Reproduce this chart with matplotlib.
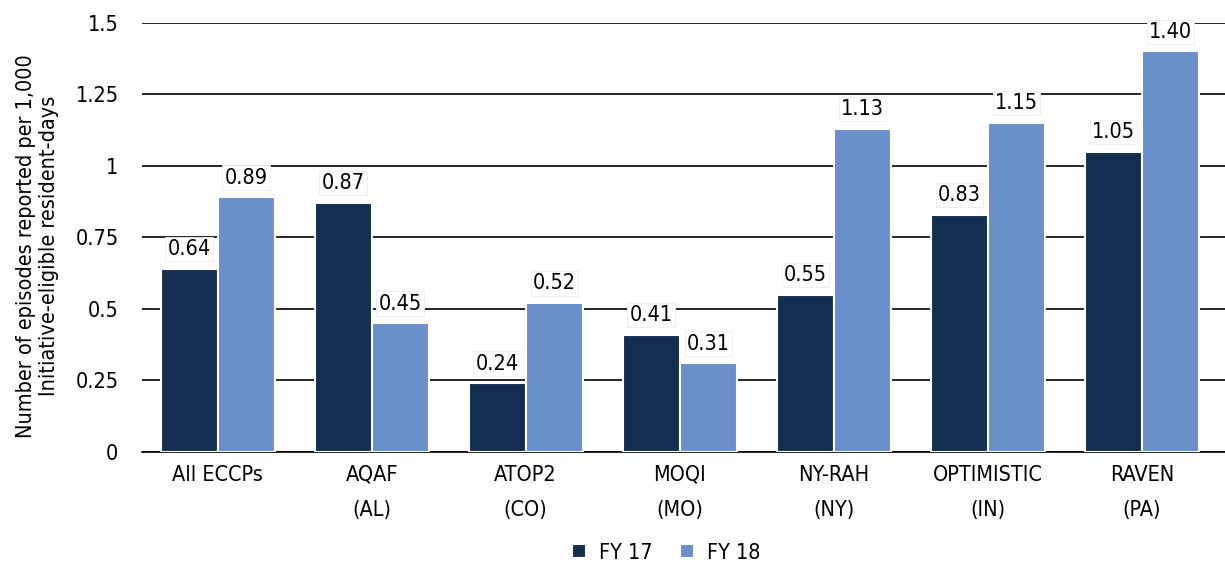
import matplotlib
matplotlib.use("Agg")
import matplotlib.pyplot as plt
from matplotlib import font_manager as fm
import numpy as np

categories = ["All ECCPs", "AQAF\n(AL)", "ATOP2\n(CO)", "MOQI\n(MO)", "NY-RAH\n(NY)", "OPTIMISTIC\n(IN)", "RAVEN\n(PA)"]
fy17 = [0.64, 0.87, 0.24, 0.41, 0.55, 0.83, 1.05]
fy18 = [0.89, 0.45, 0.52, 0.31, 1.13, 1.15, 1.40]
series_names = ["FY 17", "FY 18"]
yticks = [0, 0.25, 0.5, 0.75, 1, 1.25, 1.5]
ytick_labels = ["0", "0.25", "0.5", "0.75", "1", "1.25", "1.5"]

names = {f.name for f in fm.fontManager.ttflist}
if "Liberation Sans Narrow" in names:
    plt.rcParams['font.family'] = ['Liberation Sans Narrow', 'DejaVu Sans']
else:
    plt.rcParams['font.family'] = ['DejaVu Sans']
    plt.rcParams['font.stretch'] = 'condensed'

dark = "#132e50"
light = "#6a90cb"
fs = 15.5

fig = plt.figure(figsize=(12.25, 5.7), dpi=100)
ax = fig.add_axes([0.116, 0.207, 0.884, 0.753])

x = np.arange(len(categories))
w = 0.37
b1 = ax.bar(x - w/2, fy17, w, color=dark, edgecolor="white", linewidth=1.5, label=series_names[0], zorder=3)
b2 = ax.bar(x + w/2, fy18, w, color=light, edgecolor="white", linewidth=1.5, label=series_names[1], zorder=3)

for bars, vals in ((b1, fy17), (b2, fy18)):
    for r, v in zip(bars, vals):
        ax.annotate(f"{v:.2f}", (r.get_x() + r.get_width()/2, v), xytext=(0, 7),
                    textcoords="offset points", ha="center", va="bottom", fontsize=fs,
                    bbox=dict(boxstyle="square,pad=0.1", fc="white", ec="#ececec", lw=0.6),
                    zorder=5, annotation_clip=False)

ax.set_ylim(0, 1.5)
ax.set_xlim(-0.49, 6.54)
ax.set_yticks(yticks)
ax.set_yticklabels(ytick_labels, fontsize=fs)
ax.set_xticks(x)
ax.set_xticklabels(categories, fontsize=fs, linespacing=1.95, va="top")
ax.tick_params(axis="both", length=0)
ax.tick_params(axis="y", pad=17)
ax.tick_params(axis="x", pad=9)
ax.yaxis.grid(True, color="black", linewidth=1.2, zorder=0)
ax.set_axisbelow(True)
for s in ("left", "right", "top"):
    ax.spines[s].set_visible(False)
ax.spines["bottom"].set_color("black")
ax.spines["bottom"].set_linewidth(1.2)

ax.set_ylabel("Number of episodes reported per 1,000\nInitiative-eligible resident-days", fontsize=fs, linespacing=1.2)
ax.yaxis.set_label_coords(-0.077, 0.48)

ax.legend(loc="center", bbox_to_anchor=(0.484, -0.235), ncol=2, frameon=False, fontsize=fs,
          handlelength=0.65, handleheight=0.65, columnspacing=1.3, handletextpad=0.6)

fig.savefig("out.png", dpi=100)
